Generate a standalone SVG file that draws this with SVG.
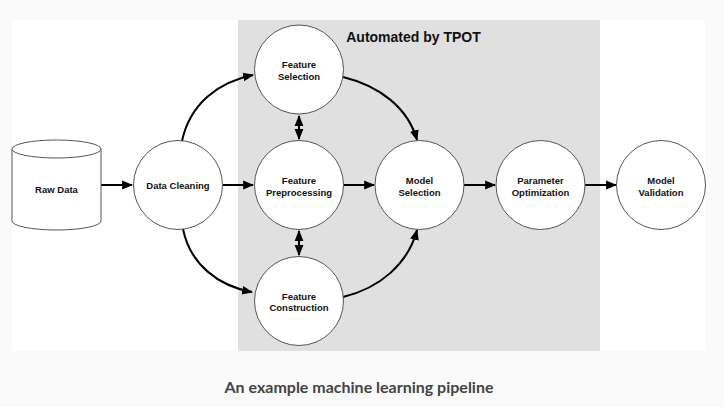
<svg xmlns="http://www.w3.org/2000/svg" width="724" height="407" viewBox="0 0 724 407">
<defs>
<style>
.node{fill:#fff;stroke:#555;stroke-width:1}
.lbl{font-family:"Liberation Sans",Arial,sans-serif;font-weight:bold;font-size:9.5px;fill:#111;text-anchor:middle}
.edge{fill:none;stroke:#000;stroke-width:2}
</style>
<marker id="ah" viewBox="0 0 10 10" refX="9" refY="5" markerWidth="5.5" markerHeight="5.5" orient="auto-start-reverse" markerUnits="strokeWidth">
<path d="M0,1 L10,5 L0,9 z" fill="#000"/>
</marker>
</defs>
<rect x="0" y="0" width="724" height="407" fill="#fafafa"/>
<rect x="12" y="20" width="693" height="331" fill="#fff"/>
<rect x="238" y="20" width="362" height="331" fill="#e0e0e0"/>
<text x="413.5" y="42" font-family="'Liberation Sans',Arial,sans-serif" font-weight="bold" font-size="14" fill="#111" text-anchor="middle">Automated by TPOT</text>

<g id="connectors">
<line class="edge" x1="101" y1="185" x2="132" y2="185" marker-end="url(#ah)"/>
<line class="edge" x1="222" y1="185" x2="253" y2="185" marker-end="url(#ah)"/>
<line class="edge" x1="343" y1="185" x2="374" y2="185" marker-end="url(#ah)"/>
<line class="edge" x1="464" y1="185" x2="495" y2="185" marker-end="url(#ah)"/>
<line class="edge" x1="585" y1="185" x2="616" y2="185" marker-end="url(#ah)"/>
<path class="edge" d="M182,141 C190,104 218,82 253,75" marker-end="url(#ah)"/>
<path class="edge" d="M183,229 C190,264 218,286 252,292" marker-end="url(#ah)"/>
<path class="edge" d="M343,77 C380,86 408,108 417,140" marker-end="url(#ah)"/>
<path class="edge" d="M343,297 C380,288 408,264 417,230" marker-end="url(#ah)"/>
<line class="edge" x1="299" y1="116" x2="299" y2="139" marker-start="url(#ah)" marker-end="url(#ah)"/>
<line class="edge" x1="299" y1="231" x2="299" y2="255" marker-start="url(#ah)" marker-end="url(#ah)"/>
</g>

<g id="raw-data">
<path class="node" d="M12,149 L12,221 A44.5,9 0 0 0 101,221 L101,149"/>
<ellipse class="node" cx="56.5" cy="149" rx="44.5" ry="9"/>
<text class="lbl" x="56.5" y="193">Raw Data</text>
</g>
<g id="data-cleaning">
<circle class="node" cx="178" cy="185" r="44.5"/>
<text class="lbl" x="178" y="189">Data Cleaning</text>
</g>
<g id="feature-selection">
<circle class="node" cx="299" cy="69.5" r="44.5"/>
<text class="lbl" x="299" y="68">Feature</text>
<text class="lbl" x="299" y="79.5">Selection</text>
</g>
<g id="feature-preprocessing">
<circle class="node" cx="299" cy="185" r="44.5"/>
<text class="lbl" x="299" y="184">Feature</text>
<text class="lbl" x="299" y="195.5">Preprocessing</text>
</g>
<g id="feature-construction">
<circle class="node" cx="299" cy="301" r="44.5"/>
<text class="lbl" x="299" y="299.5">Feature</text>
<text class="lbl" x="299" y="311">Construction</text>
</g>
<g id="model-selection">
<circle class="node" cx="419.5" cy="185" r="44.5"/>
<text class="lbl" x="419.5" y="184">Model</text>
<text class="lbl" x="419.5" y="195.5">Selection</text>
</g>
<g id="parameter-optimization">
<circle class="node" cx="540.5" cy="185" r="44.5"/>
<text class="lbl" x="540.5" y="184">Parameter</text>
<text class="lbl" x="540.5" y="195.5">Optimization</text>
</g>
<g id="model-validation">
<circle class="node" cx="661" cy="185" r="44.5"/>
<text class="lbl" x="661" y="184">Model</text>
<text class="lbl" x="661" y="195.5">Validation</text>
</g>
<text x="359" y="393" font-family="Lato,'Liberation Sans',sans-serif" font-weight="bold" font-size="16" fill="#444" text-anchor="middle">An example machine learning pipeline</text>
</svg>
